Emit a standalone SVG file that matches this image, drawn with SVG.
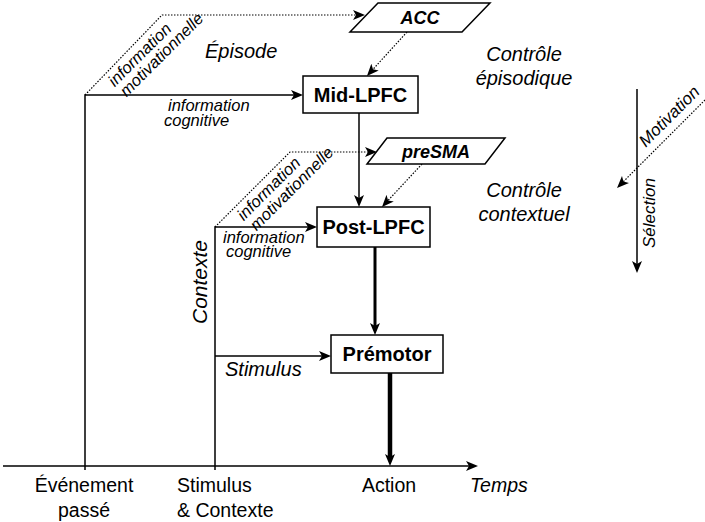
<svg xmlns="http://www.w3.org/2000/svg" width="705" height="522" viewBox="0 0 705 522">
<style>
.ln{fill:none;stroke:#000;stroke-width:1.5}
.dt{fill:none;stroke:#000;stroke-width:1.2;stroke-dasharray:1.5 1.5}
.box{fill:#fff;stroke:#000;stroke-width:1.5}
.bl{font-family:"Liberation Sans",Arial,sans-serif;font-weight:bold;font-size:20px;text-anchor:middle}
.pl{font-family:"Liberation Sans",Arial,sans-serif;font-weight:bold;font-style:italic;font-size:18px;text-anchor:middle}
.it{font-family:"Liberation Sans",Arial,sans-serif;font-style:italic;font-size:16.5px}
.big{font-family:"Liberation Sans",Arial,sans-serif;font-style:italic;font-size:20px}
.ax{font-family:"Liberation Sans",Arial,sans-serif;font-size:19.5px}
</style>
<defs>
<marker id="ah" viewBox="0 0 12 10" refX="3" refY="5" markerWidth="12" markerHeight="10" markerUnits="userSpaceOnUse" orient="auto">
<path d="M0,0 L12,5 L0,10 L3,5 z" fill="#000"/>
</marker>
</defs>
<rect width="705" height="522" fill="#fff"/>
<g id="connectors">
<path class="ln" d="M3,466 H469" marker-end="url(#ah)"/>
<path class="ln" d="M85,470 V95 H294" marker-end="url(#ah)"/>
<path class="ln" d="M215,470 V227 H308" marker-end="url(#ah)"/>
<path class="ln" d="M215,356 H322" marker-end="url(#ah)"/>
<path class="ln" d="M359,113 V198" marker-end="url(#ah)"/>
<path class="ln" d="M375,247 V326" style="stroke-width:3" marker-end="url(#ah)"/>
<path class="ln" d="M390,373 V457" style="stroke-width:4.5" marker-end="url(#ah)"/>
<path class="dt" d="M85,95 L162,15 H356" marker-end="url(#ah)"/>
<path class="dt" d="M407,32 L373,69.3" marker-end="url(#ah)"/>
<path class="dt" d="M215,227 L290,152 H368" marker-end="url(#ah)"/>
<path class="dt" d="M422,164 L388.1,200.4" marker-end="url(#ah)"/>
<path class="dt" d="M705,100 L623.4,181.6" marker-end="url(#ah)"/>
<path class="ln" d="M637,89 V264" marker-end="url(#ah)"/>
</g>
<g id="acc">
<polygon class="box" points="378,3 490,3 462,32 350,32"/>
<text class="pl" x="420" y="24">ACC</text>
</g>
<g id="mid-lpfc">
<rect class="box" x="303" y="76" width="115" height="37"/>
<text class="bl" x="360.5" y="102">Mid-LPFC</text>
</g>
<g id="presma">
<polygon class="box" points="387,138 505,138 485,164 367,164"/>
<text class="pl" x="436" y="158">preSMA</text>
</g>
<g id="post-lpfc">
<rect class="box" x="317" y="207" width="113" height="40"/>
<text class="bl" x="373.5" y="234">Post-LPFC</text>
</g>
<g id="premotor">
<rect class="box" x="331" y="335" width="112" height="38"/>
<text class="bl" x="387" y="361">Prémotor</text>
</g>
<g id="labels">
<text class="it" transform="translate(140,55) rotate(-45)" x="0" y="5" text-anchor="middle">information</text>
<text class="it" transform="translate(162,55) rotate(-45)" x="0" y="5" text-anchor="middle">motivationnelle</text>
<text class="it" x="168" y="111">information</text>
<text class="it" x="164" y="126">cognitive</text>
<text class="big" x="205" y="58">Épisode</text>
<text class="big" x="524" y="61" text-anchor="middle">Contrôle</text>
<text class="big" x="524" y="85" text-anchor="middle">épisodique</text>
<text class="it" transform="translate(269,189) rotate(-45)" x="0" y="5" text-anchor="middle">information</text>
<text class="it" transform="translate(292,189) rotate(-45)" x="0" y="5" text-anchor="middle">motivationnelle</text>
<text class="it" x="223" y="243">information</text>
<text class="it" x="226" y="257">cognitive</text>
<text class="big" x="524" y="197" text-anchor="middle">Contrôle</text>
<text class="big" x="524" y="221" text-anchor="middle">contextuel</text>
<text class="big" transform="translate(207,282) rotate(-90)" text-anchor="middle" style="font-size:21px">Contexte</text>
<text class="big" x="225" y="376">Stimulus</text>
<text class="big" transform="translate(669,116) rotate(-45)" x="0" y="6" text-anchor="middle" style="font-size:17px">Motivation</text>
<text class="big" transform="translate(655,213) rotate(-90)" text-anchor="middle" style="font-size:17px">Sélection</text>
<text class="ax" x="84" y="492" text-anchor="middle">Événement</text>
<text class="ax" x="84" y="517" text-anchor="middle">passé</text>
<text class="ax" x="177" y="492">Stimulus</text>
<text class="ax" x="177" y="517">&amp; Contexte</text>
<text class="ax" x="389" y="492" text-anchor="middle">Action</text>
<text class="ax" x="470" y="492" style="font-style:italic">Temps</text>
</g>
</svg>
